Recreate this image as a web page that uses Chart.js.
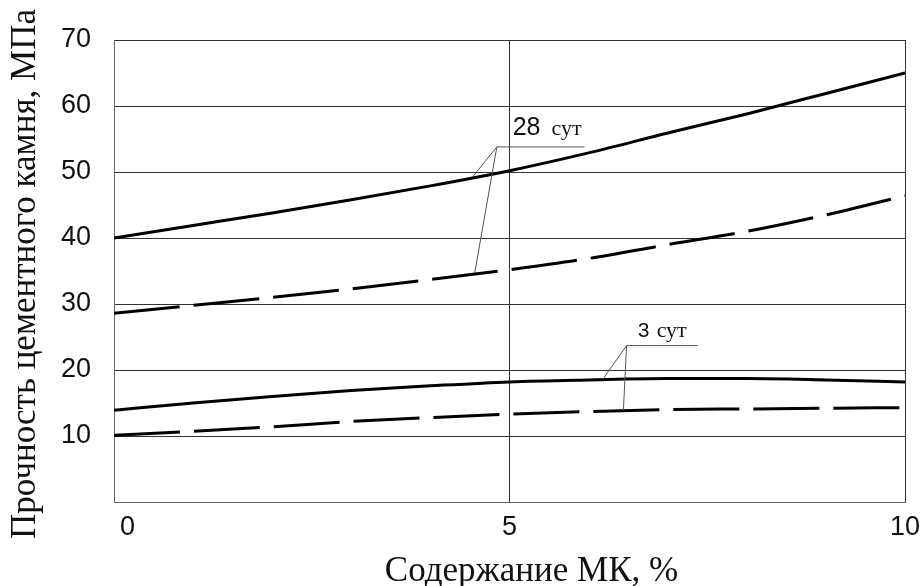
<!DOCTYPE html>
<html>
<head>
<meta charset="utf-8">
<script src="https://cdn.jsdelivr.net/npm/chart.js@4/dist/chart.umd.min.js"></script>
<style>
  html, body { margin: 0; padding: 0; background: #fff; }
  #wrap { width: 922px; height: 586px; }
</style>
</head>
<body>
<div id="wrap"><canvas id="c" width="922" height="586"></canvas></div>
<script>
// Silica fume content, %
const contentMK = [0, 1, 2, 3, 4, 5, 6, 7, 8, 9, 10];
// Cement stone strength, MPa
const strength28solid  = [40.0, 41.9, 43.8, 45.8, 47.9, 50.2, 52.9, 55.9, 58.8, 61.9, 65.0];
const strength28dashed = [28.6, 29.8, 31.0, 32.3, 33.7, 35.2, 36.9, 39.0, 41.0, 43.5, 46.4];
const strength3solid   = [13.9, 15.0, 16.0, 16.9, 17.6, 18.2, 18.5, 18.7, 18.7, 18.5, 18.2];
const strength3dashed  = [10.1, 10.7, 11.4, 12.2, 12.8, 13.3, 13.7, 14.0, 14.1, 14.2, 14.3];
const xTicks = [0, 5, 10];
const yTicks = [10, 20, 30, 40, 50, 60, 70];
const xTitle = 'Содержание МК, %';
const yTitle = 'Прочность цементного камня, МПа';

// Curve callouts: label text, leader hub line and the points the leaders reach (data units)
const callouts = [
  { num: '28', unit: 'сут', numSize: 25, textX: 5.04, textY: 55.6, unitX: 5.53,
    hub: [4.84, 5.95], hubY: 53.8, targets: [[4.53, 49.2], [4.56, 34.7]] },
  { num: '3', unit: 'сут', numSize: 21, textX: 6.62, textY: 25.0, unitX: 6.86,
    hub: [6.48, 7.38], hubY: 23.7, targets: [[6.18, 18.6], [6.44, 13.9]] }
];

const SERIF = '"Liberation Serif", "Times New Roman", serif';
const SANS = '"Liberation Sans", Arial, sans-serif';

const toPoints = arr => arr.map((v, i) => ({ x: contentMK[i], y: v }));

const calloutPlugin = {
  id: 'callouts',
  afterDatasetsDraw(chart) {
    const { ctx, scales: { x, y } } = chart;
    ctx.save();
    callouts.forEach(c => {
      const hy = y.getPixelForValue(c.hubY);
      const hx0 = x.getPixelForValue(c.hub[0]);
      const hx1 = x.getPixelForValue(c.hub[1]);
      ctx.strokeStyle = '#555';
      ctx.lineWidth = 1;
      ctx.beginPath();
      ctx.moveTo(hx0, hy);
      ctx.lineTo(hx1, hy);
      c.targets.forEach(t => {
        ctx.moveTo(hx0, hy);
        ctx.lineTo(x.getPixelForValue(t[0]), y.getPixelForValue(t[1]));
      });
      ctx.stroke();
      ctx.fillStyle = '#111';
      ctx.textBaseline = 'alphabetic';
      ctx.textAlign = 'left';
      ctx.font = c.numSize + 'px ' + SANS;
      ctx.fillText(c.num, x.getPixelForValue(c.textX), y.getPixelForValue(c.textY));
      ctx.font = '22px ' + SERIF;
      ctx.fillText(c.unit, x.getPixelForValue(c.unitX), y.getPixelForValue(c.textY));
    });
    ctx.restore();
  }
};

// Axis titles, placed relative to the plot area
const axisTitlePlugin = {
  id: 'axisTitles',
  afterDraw(chart) {
    const { ctx, chartArea: a } = chart;
    ctx.save();
    ctx.fillStyle = '#111';
    ctx.font = '35px ' + SERIF;
    ctx.textAlign = 'center';
    ctx.textBaseline = 'alphabetic';
    ctx.fillText(xTitle, (a.left + a.right) / 2 + 22, a.bottom + 79);
    ctx.translate(35, (a.top + a.bottom) / 2 + 3);
    ctx.rotate(-Math.PI / 2);
    ctx.fillText(yTitle, 0, 0);
    ctx.restore();
  }
};

const solid = { borderColor: '#000', borderWidth: 3, pointRadius: 0, fill: false, cubicInterpolationMode: 'monotone' };
const dashed = Object.assign({}, solid, { borderDash: [66, 14] });

new Chart(document.getElementById('c'), {
  type: 'line',
  data: {
    datasets: [
      Object.assign({ label: '28 сут', data: toPoints(strength28solid) }, solid),
      Object.assign({ label: '28 сут (2)', data: toPoints(strength28dashed) }, dashed),
      Object.assign({ label: '3 сут', data: toPoints(strength3solid) }, solid),
      Object.assign({ label: '3 сут (2)', data: toPoints(strength3dashed) }, dashed)
    ]
  },
  options: {
    responsive: false,
    animation: false,
    devicePixelRatio: 1,
    layout: { padding: { top: 40, right: 17, left: 0, bottom: 0 } },
    plugins: { legend: { display: false }, tooltip: { enabled: false } },
    scales: {
      x: {
        type: 'linear',
        min: 0, max: 10,
        afterFit(s) { s.height = 84; s.paddingLeft = 0; s.paddingRight = 0; },
        afterBuildTicks(s) { s.ticks = xTicks.map(v => ({ value: v })); },
        grid: { color: '#333', lineWidth: 1, drawTicks: false },
        border: { color: '#666', width: 1 },
        ticks: {
          padding: 9,
          color: '#111',
          font: { family: SANS, size: 27 },
          // the first label sits just inside the axis corner
          callback: v => (v === 0 ? '\u2002\u20020' : String(v))
        }
      },
      y: {
        type: 'linear',
        min: 0, max: 70,
        afterFit(s) { s.width = 114; s.paddingTop = 0; s.paddingBottom = 0; },
        afterBuildTicks(s) { s.ticks = [0].concat(yTicks).map(v => ({ value: v })); },
        grid: { color: '#333', lineWidth: 1, drawTicks: false },
        border: { color: '#666', width: 1 },
        ticks: {
          padding: 23,
          color: '#111',
          font: { family: SANS, size: 27 },
          callback: v => (v === 0 ? '' : String(v))
        }
      }
    }
  },
  plugins: [calloutPlugin, axisTitlePlugin]
});
</script>
</body>
</html>
